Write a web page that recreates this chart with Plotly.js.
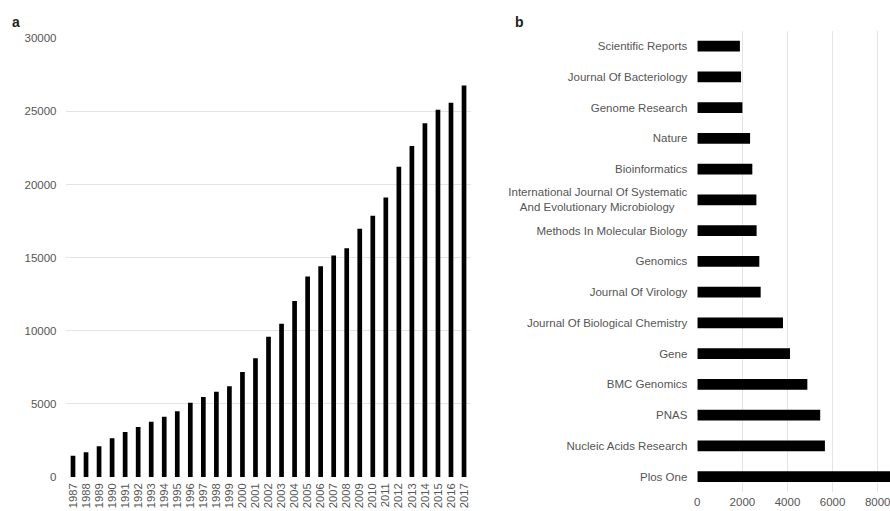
<!DOCTYPE html>
<html><head><meta charset="utf-8">
<script src="https://cdn.plot.ly/plotly-3.0.1.min.js"></script>
<style>html,body{margin:0;padding:0;background:#fff}#c{width:890px;height:511px}</style>
</head><body><div id="c"></div>
<script>
const years = ['1987','1988','1989','1990','1991','1992','1993','1994','1995','1996','1997','1998','1999','2000','2001','2002','2003','2004','2005','2006','2007','2008','2009','2010','2011','2012','2013','2014','2015','2016','2017'];
const papers = [1450,1700,2100,2650,3080,3420,3780,4120,4490,5080,5470,5830,6200,7180,8130,9590,10480,12030,13720,14420,15150,15650,16970,17860,19120,21210,22630,24200,25110,25590,26770];

const journals = ['Scientific Reports','Journal Of Bacteriology','Genome Research','Nature','Bioinformatics',
  'International Journal Of Systematic<br>And Evolutionary Microbiology\u00a0\u00a0\u00a0\u00a0',
  'Methods In Molecular Biology','Genomics','Journal Of Virology','Journal Of Biological Chemistry',
  'Gene','BMC Genomics','PNAS','Nucleic Acids Research','Plos One'];
const counts = [1890,1940,2000,2340,2440,2620,2630,2750,2810,3800,4110,4880,5450,5660,9200];

const fam = 'Arial, Liberation Sans, sans-serif';
const font = {family:fam, size:11.5, color:'#555'};
const grid = '#e4e4e4';

const data = [
  {type:'bar', x:years, y:papers, xaxis:'x', yaxis:'y', marker:{color:'#000'}, width:0.36, hoverinfo:'x+y'},
  {type:'bar', orientation:'h', x:counts, y:journals, xaxis:'x2', yaxis:'y2', marker:{color:'#000'}, width:0.35, hoverinfo:'x+y'}
];

const layout = {
  width:890, height:511,
  margin:{l:0,r:0,t:0,b:0},
  paper_bgcolor:'#fff', plot_bgcolor:'#fff',
  showlegend:false, font:font,
  xaxis:{domain:[0.0747,0.5287], type:'category', tickangle:-90, showgrid:false, showline:false, zeroline:false, ticks:'', ticklabelstandoff:3, tickfont:{family:fam,size:11.2,color:'#555'}},
  yaxis:{domain:[0.0665,0.925], range:[0,30000], tickvals:[0,5000,10000,15000,20000,25000,30000], ticktext:['0','5000','10000','15000','20000','25000','30000'], showgrid:true, gridcolor:grid, zeroline:false, showline:false, ticks:'', ticklabelstandoff:9, tickfont:{family:fam,size:11.5,color:'#555'}},
  xaxis2:{domain:[0.7835,1], anchor:'y2', range:[0,8546], tickvals:[0,2000,4000,6000,8000], ticktext:['0','2000','4000','6000','8000'], showgrid:true, gridcolor:grid, zeroline:false, showline:false, ticks:'', ticklabelstandoff:2, ticklabeloverflow:'allow', tickfont:{family:fam,size:11.5,color:'#555'}},
  yaxis2:{domain:[0.0372,0.940], anchor:'x2', type:'category', autorange:'reversed', showgrid:false, zeroline:false, showline:false, ticks:'', ticklabelstandoff:9, tickfont:{family:fam,size:11.5,color:'#555'}},
  annotations:[
    {text:'<b>a</b>', xref:'paper', yref:'paper', x:10/890, y:1-22/511, xanchor:'left', yanchor:'middle', showarrow:false, font:{size:14,color:'#222',family:fam}},
    {text:'<b>b</b>', xref:'paper', yref:'paper', x:513/890, y:1-22/511, xanchor:'left', yanchor:'middle', showarrow:false, font:{size:14,color:'#222',family:fam}}
  ],
  bargap:0.65
};
Plotly.newPlot('c', data, layout, {displayModeBar:false, staticPlot:true});
</script></body></html>
